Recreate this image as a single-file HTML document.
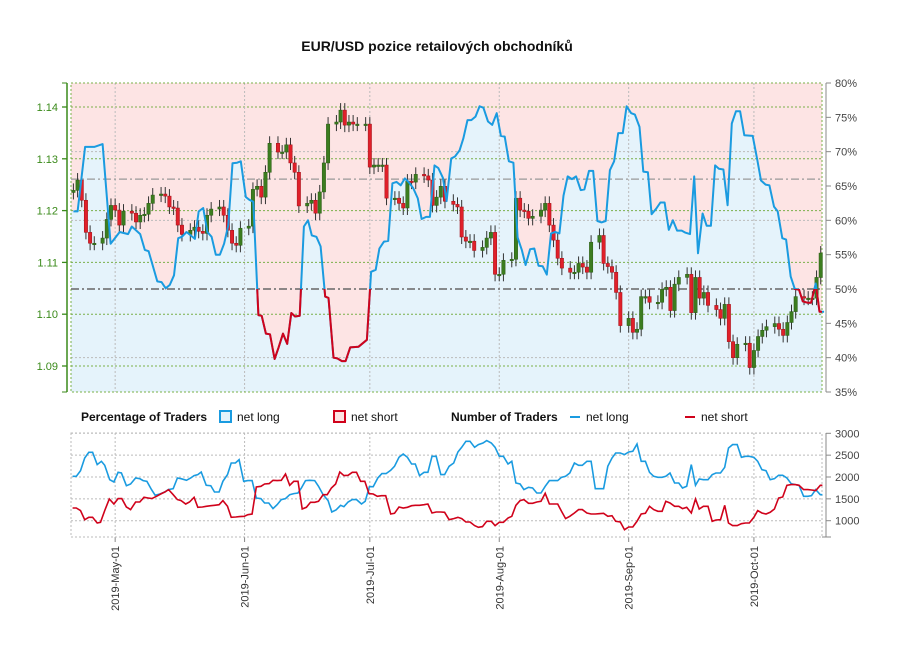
<!DOCTYPE html>
<html><head><meta charset="utf-8"><style>
body{margin:0;background:#fff}
svg{display:block;font-family:"Liberation Sans",sans-serif}
.nar{font-family:"Liberation Sans Narrow","Liberation Sans",sans-serif}
</style></head><body>
<svg id="c" width="900" height="650" viewBox="0 0 900 650">
<text x="437" y="51" text-anchor="middle" font-size="14" font-weight="bold" fill="#111">EUR/USD pozice retailových obchodníků</text>
<g id="topG"></g>
<g id="leg">
 <text class="nar" x="81" y="421" font-size="12" font-weight="bold" fill="#111">Percentage of Traders</text>
 <rect x="220" y="411" width="11" height="11" fill="#e5f3fb" stroke="#1a9be0" stroke-width="2"/>
 <text class="nar" x="237" y="421" font-size="12" fill="#111">net long</text>
 <rect x="334" y="411" width="11" height="11" fill="#fde4e4" stroke="#d0021b" stroke-width="2"/>
 <text class="nar" x="351" y="421" font-size="12" fill="#111">net short</text>
 <text class="nar" x="451" y="421" font-size="12" font-weight="bold" fill="#111">Number of Traders</text>
 <line x1="570" y1="417" x2="580" y2="417" stroke="#1a9be0" stroke-width="2"/>
 <text class="nar" x="586" y="421" font-size="12" fill="#111">net long</text>
 <line x1="685" y1="417" x2="695" y2="417" stroke="#d0021b" stroke-width="2"/>
 <text class="nar" x="701" y="421" font-size="12" fill="#111">net short</text>
</g>
<g id="botG"></g>
</svg>
<script>
// ---------- data ----------
const priceTicks=[1.09,1.10,1.11,1.12,1.13,1.14];
const pctTicks=[35,40,45,50,55,60,65,70,75,80];
const countTicks=[1000,1500,2000,2500,3000];
const monthLabels=["2019-May-01","2019-Jun-01","2019-Jul-01","2019-Aug-01","2019-Sep-01","2019-Oct-01"];
const monthDays=[10,41,71,102,133,163];
const closes=[1.1239,1.1259,1.1220,1.1158,1.1137,1.1137,1.1147,1.1183,1.1210,1.1201,1.1172,1.1199,1.1195,1.1178,1.1191,1.1193,1.1214,1.1230,1.1232,1.1228,1.1207,1.1205,1.1172,1.1154,1.1162,1.1168,1.1160,1.1156,1.1191,1.1203,1.1207,1.1191,1.1162,1.1137,1.1133,1.1166,1.1170,1.1241,1.1247,1.1226,1.1274,1.1330,1.1313,1.1313,1.1327,1.1292,1.1274,1.1209,1.1214,1.1220,1.1195,1.1236,1.1292,1.1367,1.1371,1.1394,1.1365,1.1371,1.1367,1.1367,1.1367,1.1284,1.1288,1.1288,1.1288,1.1224,1.1224,1.1214,1.1205,1.1257,1.1255,1.1270,1.1267,1.1259,1.1210,1.1226,1.1247,1.1218,1.1212,1.1207,
1.1149,1.1141,1.1141,1.1123,1.1129,1.1147,1.1158,1.1077,1.1077,1.1104,1.1106,1.1224,1.1201,1.1199,1.1185,1.1189,1.1201,1.1214,1.1172,1.1143,1.1108,1.1089,1.1081,1.1081,1.1098,1.1091,1.1081,1.1139,1.1152,1.1098,1.1092,1.1081,1.1042,1.0978,1.0992,1.0965,1.0971,1.1034,1.1034,1.1023,1.1023,1.1048,1.1052,1.1007,1.1058,1.1071,1.1077,1.1003,1.1071,1.1031,1.1042,1.1017,1.1009,1.0992,1.1019,1.0947,1.0916,1.0942,1.0944,1.0897,1.0930,1.0957,1.0969,1.0976,1.0982,1.0971,1.0959,1.0984,1.1005,1.1034,1.1031,1.1031,1.1031,1.1071,1.1118];
const pctDay=[0,1,2.8,5,7,8.9,11.1,13.1,14,16,17.1,18,20.1,21.1,22.1,23.1,24.1,25.1,26,27.1,28.1,29.1,30,31.1,32.1,33.1,34.1,35.1,36.1,37.1,38.1,39.2,40.1,41.3,42.1,43.1,44.3,45.1,46.1,47.1,48.2,49.1,50.2,51.2,52.2,53.1,54.2,55.2,56.2,57.1,58.2,59.2,60.3,61.1,62.3,63.2,64.3,65.2,66.3,68.3,70.3,71.3,72.4,73.3,74.4,75.4,76.4,77.4,78.4,79.4,80.4,81.4,82.5,83.4,84.5,85.4,86.5,87.4,88.5,89.4,90.5,91.4,92.5,93.4,94.4,95.3,96.3,97.3,98.2,99.3,100.3,101.4,102.4,103.3,104.3,105.4,106.4,107.4,108.3,109.4,110.4,111.4,112.4,113.4,114.4,115.4,116.4,117.4,118.4,119.4,120.4,121.5,122.4,123.5,124.5,125.5,126.5,127.5,128.5,129.5,130.5,131.6,132.5,133.6,134.5,135.6,136.5,137.6,138.5,139.6,140.6,141.6,142.6,143.6,144.6,145.7,146.6,147.7,148.7,149.6,150.7,151.7,152.7,153.7,154.6,155.7,156.7,157.7,158.7,159.7,160.7,162.7,163.8,164.7,165.8,166.7,167.8,168.7,169.8,170.7,171.8,172.8,173.8,174.7,175.8,176.7,177.8,178.7,179.8];
const pctVal=[61.3,61.3,70.7,70.7,71.1,56.6,58.3,58.0,59.1,58.0,55.7,55.5,51.1,51.0,50.1,50.6,52.0,57.4,57.6,58.3,57.8,57.3,61.3,61.8,58.3,57.6,55.0,55.0,56.6,59.3,68.3,68.4,68.6,63.4,63.0,62.7,46.2,46.1,43.5,43.4,39.8,41.4,43.5,42.0,46.5,46.0,46.1,59.1,60.0,57.8,57.6,56.2,48.9,48.7,40.0,39.9,39.5,39.5,41.5,41.6,42.6,52.5,52.8,55.9,56.9,57.0,65.4,65.6,65.1,66.1,65.5,64.7,63.2,60.2,60.5,60.5,68.0,67.6,66.2,62.8,69.0,69.3,70.2,71.9,74.6,74.6,75.1,76.6,76.4,74.4,73.9,75.6,72.3,72.2,68.6,68.4,57.5,55.7,53.5,55.8,55.9,53.4,53.3,52.1,58.1,58.3,58.1,63.6,66.4,66.0,66.4,64.4,64.5,67.2,67.2,59.9,59.7,59.9,67.3,68.6,72.7,72.7,76.6,75.6,75.4,73.6,67.1,67.0,60.9,61.7,62.6,62.6,58.6,60.0,58.5,58.5,58.2,58.0,66.4,55.2,61.0,59.2,59.2,68.0,67.5,67.4,62.2,74.1,75.9,75.9,72.4,72.3,68.8,65.8,65.2,65.1,62.0,61.3,57.4,57.2,51.8,50.0,49.9,48.2,48.0,48.0,50.8,46.7,46.7];
const longDay=[-0.2,0.7,1.7,2.7,3.7,4.6,5.7,6.7,7.5,8.7,9.7,10.7,11.5,12.7,13.7,14.9,15.9,16.7,17.6,18.7,19.6,20.7,21.9,22.7,23.9,24.9,25.8,27.1,28.1,28.9,29.8,30.6,31.8,32.9,33.8,34.9,35.8,36.9,37.8,38.8,39.7,40.8,41.8,42.8,43.8,44.9,45.8,46.8,47.8,48.8,49.8,50.8,51.8,52.8,53.8,54.6,55.6,56.6,57.8,58.7,59.8,61.0,61.9,62.9,64.0,64.8,65.8,66.8,67.8,69.0,69.9,70.9,71.8,72.9,73.9,74.9,76.0,76.9,78.0,79.0,80.0,81.0,81.9,82.9,84.0,84.9,85.9,86.9,88.0,88.9,90.0,91.1,92.1,93.0,94.0,95.0,96.1,97.0,98.1,99.0,100.1,101.0,102.0,103.0,104.1,105.0,106.0,107.0,107.9,109.0,110.0,111.0,112.0,113.0,114.0,115.0,116.0,116.9,117.9,118.9,120.0,121.0,121.9,123.0,124.0,125.0,125.9,127.0,128.0,129.0,129.9,131.0,132.0,133.0,134.0,135.0,136.0,137.0,138.0,139.0,140.0,141.0,141.9,142.9,144.0,145.0,145.9,146.9,148.0,149.0,149.9,150.9,152.0,153.0,153.9,155.0,156.0,156.9,157.9,159.0,160.0,161.0,161.9,163.0,163.9,164.9,165.9,166.9,167.9,168.9,169.9,170.9,171.9,172.9,173.8,174.9,175.9,176.8,177.8,178.9,179.4];
const longVal=[2016,2016,2145,2435,2565,2565,2283,2359,2268,1939,1886,2107,2092,1802,1840,1978,1962,1917,1901,1711,1581,1611,1657,1711,1733,1978,1962,1924,1978,2031,2054,2115,1810,1802,1657,1657,1901,2054,2321,2321,2397,1901,1917,1917,1520,1505,1405,1405,1276,1367,1482,1505,1596,1619,1634,1749,1917,1924,1917,1787,1596,1459,1199,1245,1352,1321,1428,1482,1482,1382,1443,1779,1779,1978,2077,2077,2153,2245,2451,2527,2451,2298,2298,2031,2107,2107,2473,2473,2054,2054,2245,2321,2573,2680,2817,2817,2680,2741,2779,2832,2779,2680,2474,2474,2298,2359,1863,1840,1711,1764,1749,1634,1634,1787,1917,1917,1917,1993,2016,2092,2321,2268,2268,2359,2359,1733,1733,1733,2245,2435,2550,2550,2512,2573,2588,2756,2359,2359,2107,2016,1993,1993,2016,2092,1863,1863,1749,1787,2283,1810,1955,1939,1939,2054,2092,2092,2222,2664,2741,2741,2451,2474,2474,2451,2359,2168,2145,1939,1962,2039,2039,1978,1848,1825,1810,1558,1558,1573,1711,1596,1596];
const shortDay=[-0.2,0.7,1.7,2.7,3.7,4.6,5.7,6.5,7.5,8.6,9.7,10.7,11.6,12.7,13.7,14.9,15.9,16.9,17.9,18.8,19.9,20.9,21.9,22.8,23.9,24.9,25.8,26.9,27.8,28.9,29.8,30.9,31.8,32.9,33.8,34.9,35.8,36.9,37.8,38.9,39.8,40.9,41.8,42.8,43.8,44.9,45.8,46.9,47.8,48.8,49.8,50.8,51.8,52.8,53.8,54.8,55.8,56.8,57.8,58.7,59.8,60.8,61.8,62.8,63.8,64.8,65.8,66.8,67.8,68.8,69.8,70.8,71.8,72.8,73.8,74.8,76.0,76.9,78.0,79.0,80.0,81.0,81.9,82.9,84.0,84.9,85.9,86.9,88.0,88.9,90.0,91.1,92.1,93.0,94.0,95.0,96.1,97.0,98.0,99.0,100.1,101.0,102.0,103.0,104.1,105.0,106.0,107.0,107.9,109.0,110.0,111.0,112.0,113.0,114.0,115.0,116.0,116.9,117.9,118.9,120.0,121.0,121.9,123.0,124.0,125.0,125.9,127.0,128.0,129.0,129.9,131.0,132.0,133.0,134.0,135.0,136.0,137.0,138.0,139.0,140.0,141.0,141.9,142.9,144.0,145.0,145.9,146.9,148.0,149.0,149.9,150.9,152.0,153.0,153.9,155.0,156.0,156.9,157.9,159.0,160.0,161.0,161.9,163.0,163.9,164.9,165.9,166.9,167.9,168.9,169.9,170.9,171.9,172.9,173.8,174.9,175.9,176.8,177.8,178.9,179.4];
const shortVal=[1291,1291,1230,1024,1077,1077,948,963,1230,1497,1382,1505,1505,1314,1253,1428,1428,1535,1520,1505,1558,1611,1657,1711,1596,1482,1459,1382,1428,1535,1306,1314,1329,1344,1352,1367,1459,1329,1077,1085,1093,1100,1138,1154,1772,1787,1840,1848,1924,1917,1924,2069,1810,1901,1901,1268,1306,1421,1421,1443,1596,1596,1749,1840,2115,2031,2039,2107,2107,1901,1901,1619,1611,1558,1573,1573,1154,1169,1314,1291,1306,1344,1352,1352,1367,1382,1176,1199,1199,1192,1024,1047,1077,1047,970,970,887,848,864,986,986,887,963,963,1062,1100,1352,1459,1482,1398,1398,1428,1443,1627,1382,1382,1382,1215,1047,1100,1176,1253,1253,1176,1154,1154,1161,1169,1100,1115,986,970,795,856,856,986,1154,1169,1329,1253,1215,1215,1443,1405,1329,1329,1276,1306,1176,1497,1268,1329,1329,986,1016,1024,1352,948,887,887,932,948,948,1077,1230,1176,1154,1192,1268,1520,1543,1810,1825,1825,1810,1711,1711,1703,1688,1810,1810];

(function(){
const X0=71,X1=822;
const xDay=d=>73.4+d*4.175;
const yPrice=p=>107+(1.14-p)*5180;
const yPct=v=>83+(80-v)*309/45;
const yCnt=v=>433.3+(3000-v)*0.0437;
const NS="http://www.w3.org/2000/svg";
function el(tag,attrs,parent){const e=document.createElementNS(NS,tag);for(const k in attrs)e.setAttribute(k,attrs[k]);parent.appendChild(e);return e;}
const topG=document.getElementById('topG'), botG=document.getElementById('botG');

let bg=el('rect',{x:X0,y:83,width:X1-X0,height:309,fill:'#fde4e4'},topG);


let pts=pctDay.map((d,i)=>xDay(d).toFixed(1)+','+yPct(pctVal[i]).toFixed(1));
let area=el('polygon',{points:X0+',392 '+X0+','+yPct(pctVal[0]).toFixed(1)+' '+pts.join(' ')+' '+X1+','+yPct(pctVal[pctVal.length-1]).toFixed(1)+' '+X1+',392',fill:'#e5f3fb'},topG);



priceTicks.forEach(p=>{let g=el('line',{x1:X0,x2:X1,y1:yPrice(p),y2:yPrice(p),stroke:'#7ab04a','stroke-dasharray':'2,2','stroke-width':1},topG);

});
[40,60,70].forEach(v=>{let g=el('line',{x1:X0,x2:X1,y1:yPct(v),y2:yPct(v),stroke:'#bbb','stroke-dasharray':'2,2'},topG);

});
monthDays.forEach(d=>{let g=el('line',{x1:xDay(d),x2:xDay(d),y1:83,y2:392,stroke:'#bbb','stroke-dasharray':'2,2'},topG);

});
let f1=el('rect',{x:X0,y:83,width:X1-X0,height:309,fill:'none',stroke:'#7ab04a','stroke-dasharray':'2,2'},topG);


let r50=el('line',{x1:X0,x2:X1,y1:yPct(50),y2:yPct(50),stroke:'#666','stroke-width':1.6,'stroke-dasharray':'8,3,2,3'},topG);


let r66=el('line',{x1:X0,x2:X1,y1:yPct(66),y2:yPct(66),stroke:'#999','stroke-width':1.2,'stroke-dasharray':'8,3,2,3'},topG);



const cg=el('g',{},topG);


let day=0;
closes.forEach((c,i)=>{
  if(day%7===6)day++;
  const o=i===0?1.1235:closes[i-1];
  const x=xDay(day);
  const yo=yPrice(o),yc=yPrice(c);
  const up=c>=o;
  let w=el('line',{x1:x,x2:x,y1:Math.min(yo,yc)-7,y2:Math.max(yo,yc)+7,stroke:'#333','stroke-width':1},cg);
  
  
  let b=el('rect',{x:x-1.7,y:Math.min(yo,yc),width:3.4,height:Math.max(1.5,Math.abs(yc-yo)),fill:up?'#3c7d1f':'#e0202a',stroke:up?'#2a5a14':'#a01018','stroke-width':0.5},cg);
  
  
  day++;
});

const ptsStr=pts.join(' ');
let bl=el('polyline',{points:ptsStr,fill:'none',stroke:'#1a9be0','stroke-width':2,'stroke-linejoin':'round'},topG);


const defs=el('defs',{},document.getElementById('c'));
const cp=el('clipPath',{id:'below50'},defs);
el('rect',{x:X0,y:yPct(50),width:X1-X0,height:392-yPct(50)},cp);
let rl=el('polyline',{points:ptsStr,fill:'none',stroke:'#d0021b','stroke-width':2,'stroke-linejoin':'round','clip-path':'url(#below50)'},topG);



let la=el('line',{x1:67,x2:67,y1:83,y2:392,stroke:'#3a8a1a','stroke-width':1.5},topG);


[83,392].forEach(y=>el('line',{x1:62,x2:67,y1:y,y2:y,stroke:'#3a8a1a'},topG));
priceTicks.forEach(p=>{
  el('line',{x1:62,x2:67,y1:yPrice(p),y2:yPrice(p),stroke:'#3a8a1a','stroke-width':1.3},topG);
  let t=el('text',{x:58,y:yPrice(p)+4,'text-anchor':'end','font-size':11,fill:'#3a8a1a'},topG);
  t.textContent=p.toFixed(2);
  
  
});
let ra=el('line',{x1:826,x2:826,y1:83,y2:392,stroke:'#888'},topG);


pctTicks.forEach(v=>{
  el('line',{x1:826,x2:831,y1:yPct(v),y2:yPct(v),stroke:'#888'},topG);
  let t=el('text',{x:835,y:yPct(v)+4,'font-size':11,fill:'#444'},topG);
  t.textContent=v+'%';
  
  
});

countTicks.forEach(v=>{let g=el('line',{x1:X0,x2:X1,y1:yCnt(v),y2:yCnt(v),stroke:'#bbb','stroke-dasharray':'2,2'},botG);

});
monthDays.forEach((d,i)=>{
  let g=el('line',{x1:xDay(d),x2:xDay(d),y1:433,y2:537,stroke:'#bbb','stroke-dasharray':'2,2'},botG);
  
  
  el('line',{x1:xDay(d),x2:xDay(d),y1:537,y2:542,stroke:'#888'},botG);
  let t=el('text',{x:0,y:0,'text-anchor':'end','font-size':11,fill:'#333',transform:'translate('+(xDay(d)+4)+',546) rotate(-90)'},botG);
  t.textContent=monthLabels[i];
  
  
});
let f2=el('rect',{x:X0,y:433,width:X1-X0,height:104,fill:'none',stroke:'#bbb','stroke-dasharray':'2,2'},botG);


let ll=el('polyline',{points:longDay.map((d,i)=>xDay(d).toFixed(1)+','+yCnt(longVal[i]).toFixed(1)).join(' '),fill:'none',stroke:'#1a9be0','stroke-width':1.6},botG);


let sl=el('polyline',{points:shortDay.map((d,i)=>xDay(d).toFixed(1)+','+yCnt(shortVal[i]).toFixed(1)).join(' '),fill:'none',stroke:'#d0021b','stroke-width':1.6},botG);


let ba=el('line',{x1:826,x2:826,y1:433,y2:537,stroke:'#888'},botG);


el('line',{x1:822,x2:831,y1:537,y2:537,stroke:'#888'},botG);
countTicks.forEach(v=>{
  el('line',{x1:826,x2:831,y1:yCnt(v),y2:yCnt(v),stroke:'#888'},botG);
  let t=el('text',{x:835,y:yCnt(v)+4,'font-size':11,fill:'#444'},botG);
  t.textContent=v;
  
  
});
})();
</script>
</body></html>
